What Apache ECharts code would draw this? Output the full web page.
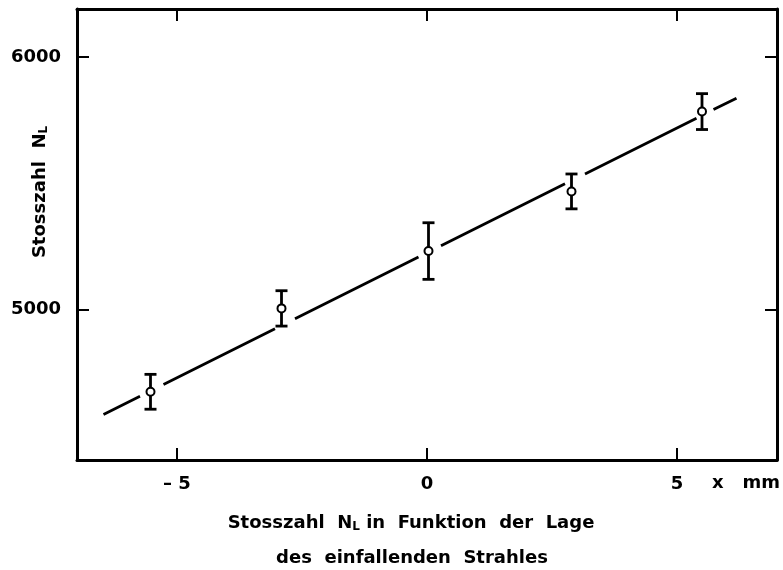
<!DOCTYPE html>
<html><head><meta charset="utf-8">
<script src="https://cdn.jsdelivr.net/npm/echarts@6/dist/echarts.min.js"></script>
<style>html,body{margin:0;padding:0;background:#fff}#c{width:783px;height:570px}</style>
</head><body><div id="c"></div>
<script>
// Data
const pointX = [-5.53, -2.91, 0.03, 2.89, 5.50];
const pointY = [4675, 5005, 5232, 5468, 5784];
const pointErr = [69, 70, 112, 69, 71];
// fitted line drawn with gaps around the points: [x, y] pairs, null = break
const lineX = [-6.47, -5.74, null, -5.27, -3.04, null, -2.64, -0.17, null, 0.28, 2.76, null, 3.16, 5.39, null, 5.73, 6.19];
const lineY = [4585, 4657, null, 4704, 4924, null, 4964, 5208, null, 5253, 5498, null, 5537, 5758, null, 5792, 5837];
const xTicks = [-5, 0, 5];
const yTicks = [5000, 6000];

const FONT = 'DejaVu Sans';
const chart = echarts.init(document.getElementById('c'));
const lineData = lineX.map((x, i) => x === null ? [null, null] : [x, lineY[i]]);
const errData = pointX.map((x, i) => [x, pointY[i], pointErr[i]]);

chart.setOption({
  animation: false,
  backgroundColor: '#fff',
  grid: { left: 77, top: 9, right: 6, bottom: 110, show: false, containLabel: false, outerBoundsMode: 'none' },
  xAxis: [{
    type: 'value', min: -7, max: 7, position: 'bottom',
    axisLine: { show: true, onZero: false, lineStyle: { color: '#000', width: 3 } },
    axisTick: { show: true, inside: true, length: 12, customValues: xTicks, lineStyle: { color: '#000', width: 2 } },
    axisLabel: { show: true, customValues: xTicks, margin: 15, color: '#000', fontFamily: FONT, fontWeight: 'bold', fontSize: 18,
      formatter: v => v < 0 ? '\u2013 ' + Math.abs(v) : String(v) },
    splitLine: { show: false }
  }, {
    type: 'value', min: -7, max: 7, position: 'top',
    axisLine: { show: true, onZero: false, lineStyle: { color: '#000', width: 3 } },
    axisTick: { show: true, inside: true, length: 12, customValues: xTicks, lineStyle: { color: '#000', width: 2 } },
    axisLabel: { show: false }, splitLine: { show: false }
  }],
  yAxis: [{
    type: 'value', min: 4405, max: 6190, position: 'left',
    axisLine: { show: true, onZero: false, lineStyle: { color: '#000', width: 3 } },
    axisTick: { show: true, inside: true, length: 12, customValues: yTicks, lineStyle: { color: '#000', width: 2 } },
    axisLabel: { show: true, customValues: yTicks, margin: 16, color: '#000', fontFamily: FONT, fontWeight: 'bold', fontSize: 18,
      formatter: v => String(v) },
    splitLine: { show: false }
  }, {
    type: 'value', min: 4405, max: 6190, position: 'right',
    axisLine: { show: true, onZero: false, lineStyle: { color: '#000', width: 3 } },
    axisTick: { show: true, inside: true, length: 12, customValues: yTicks, lineStyle: { color: '#000', width: 2 } },
    axisLabel: { show: false }, splitLine: { show: false }
  }],
  series: [{
    type: 'line', data: lineData, connectNulls: false, symbol: 'none',
    lineStyle: { color: '#000', width: 2.8 }, silent: true
  }, {
    type: 'custom', data: errData, silent: true,
    renderItem: function (params, api) {
      const x = api.value(0), y = api.value(1), e = api.value(2);
      const c = api.coord([x, y]);
      const t = api.coord([x, y + e]);
      const b = api.coord([x, y - e]);
      const hw = 6, r = 4;
      const st = { stroke: '#000', lineWidth: 2.8 };
      return { type: 'group', children: [
        { type: 'line', shape: { x1: c[0], y1: t[1], x2: c[0], y2: c[1] - r }, style: st },
        { type: 'line', shape: { x1: c[0], y1: c[1] + r, x2: c[0], y2: b[1] }, style: st },
        { type: 'line', shape: { x1: c[0] - hw, y1: t[1], x2: c[0] + hw, y2: t[1] }, style: st },
        { type: 'line', shape: { x1: c[0] - hw, y1: b[1], x2: c[0] + hw, y2: b[1] }, style: st },
        { type: 'circle', shape: { cx: c[0], cy: c[1], r: r }, style: { fill: '#fff', stroke: '#000', lineWidth: 2 } }
      ] };
    }
  }],
  graphic: [
    { type: 'text', x: 40, y: 192, rotation: Math.PI / 2, style: { text: '{a|Stosszahl  N}{s|L}', align: 'center', verticalAlign: 'middle',
        rich: { a: { font: 'bold 18px "DejaVu Sans"', fill: '#000' }, s: { font: 'bold 12px "DejaVu Sans"', fill: '#000', verticalAlign: 'bottom', padding: [8, 0, 0, 0] } } } },
    { type: 'text', left: 712, top: 474, style: { text: 'x   mm', font: 'bold 18px "DejaVu Sans"', fill: '#000' } },
    { type: 'text', x: 411, y: 523, style: { text: '{a|Stosszahl  N}{s|L}{a| in  Funktion  der  Lage}', align: 'center', verticalAlign: 'middle',
        rich: { a: { font: 'bold 18px "DejaVu Sans"', fill: '#000' }, s: { font: 'bold 12px "DejaVu Sans"', fill: '#000', verticalAlign: 'bottom', padding: [8, 0, 0, 0] } } } },
    { type: 'text', x: 412, y: 558, style: { text: 'des  einfallenden  Strahles', align: 'center', verticalAlign: 'middle', font: 'bold 18px "DejaVu Sans"', fill: '#000' } }
  ]
});
</script></body></html>
